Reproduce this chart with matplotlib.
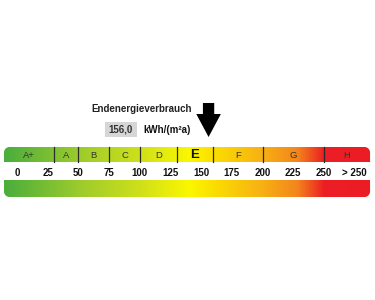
import numpy as np
import matplotlib
matplotlib.use("Agg")
import matplotlib.pyplot as plt
from matplotlib.path import Path
from matplotlib.patches import PathPatch, Rectangle, Polygon
from matplotlib.colors import LinearSegmentedColormap

plt.rcParams['font.family'] = ['Liberation Sans', 'DejaVu Sans']

# ---- data ----
classes = ['A+', 'A', 'B', 'C', 'D', 'E', 'F', 'G', 'H']
class_bounds = [-10.6, 30, 50, 75, 100, 130, 160, 200, 250, 287.5]
tick_values = [0, 25, 50, 75, 100, 125, 150, 175, 200, 225, 250, 275]
tick_labels = ['0', '25', '50', '75', '100', '125', '150', '175', '200', '225', '250', '> 250']
value = 156.0
value_label = '156,0'
unit_label = 'kWh/(m²a)'
title = 'Endenergieverbrauch'
current_class = 'E'

# gradient stops (value, colour)
grad_pos = [-10.6, 50, 100, 140, 160, 200, 228, 250, 287.5]
grad_col = ['#4aae3c', '#9ccb2c', '#cfe01a', '#fbf700', '#fbde00', '#f7b014', '#f3861c', '#ec1e24', '#ec1c24']

# ---- layout (pixel units in y, value units in x) ----
PX = 1.228          # px per value unit
X0 = 17             # pixel of value 0
W, H = 375, 300
fig = plt.figure(figsize=(W / 100, H / 100), dpi=100)
ax = fig.add_axes([0, 0, 1, 1])
ax.set_xlim((0 - X0) / PX, (W - X0) / PX)
ax.set_ylim(H, 0)
ax.axis('off')

xmin, xmax = class_bounds[0], class_bounds[-1]
top_y0, top_y1 = 147, 162
bot_y0, bot_y1 = 180, 197
r = 5.5  # px radius


def rounded_path(x0, x1, y0, y1, top=True):
    rx = r / PX
    k = 0.5523
    if top:
        verts = [(x0, y1), (x0, y0 + r), (x0, y0 + r - k * r), (x0 + rx - k * rx, y0), (x0 + rx, y0),
                 (x1 - rx, y0), (x1 - rx + k * rx, y0), (x1, y0 + r - k * r), (x1, y0 + r),
                 (x1, y1), (x0, y1)]
    else:
        verts = [(x0, y0), (x0, y1 - r), (x0, y1 - r + k * r), (x0 + rx - k * rx, y1), (x0 + rx, y1),
                 (x1 - rx, y1), (x1 - rx + k * rx, y1), (x1, y1 - r + k * r), (x1, y1 - r),
                 (x1, y0), (x0, y0)]
    codes = [Path.MOVETO, Path.LINETO, Path.CURVE4, Path.CURVE4, Path.CURVE4,
             Path.LINETO, Path.CURVE4, Path.CURVE4, Path.CURVE4, Path.LINETO, Path.CLOSEPOLY]
    return Path(verts, codes)


cmap = LinearSegmentedColormap.from_list(
    'energy', [((p - xmin) / (xmax - xmin), c) for p, c in zip(grad_pos, grad_col)])
grad = np.linspace(0, 1, 600).reshape(1, -1)

for (y0, y1, top) in [(top_y0, top_y1, True), (bot_y0, bot_y1, False)]:
    im = ax.imshow(grad, cmap=cmap, aspect='auto', extent=(xmin, xmax, y1, y0),
                   interpolation='bilinear', zorder=1)
    patch = PathPatch(rounded_path(xmin, xmax, y0, y1, top), facecolor='none', edgecolor='none')
    ax.add_patch(patch)
    im.set_clip_path(patch)

# dividers
for b in class_bounds[1:-1]:
    ax.plot([b, b], [top_y0, top_y1], color='#2a2a2a', lw=0.9, zorder=3)

# class labels
for i, c in enumerate(classes):
    cx = (class_bounds[i] + class_bounds[i + 1]) / 2
    if c == current_class:
        ax.text(cx, (top_y0 + top_y1) / 2 + 0.5, c, ha='center', va='center',
                fontsize=9.5, fontweight='bold', color='#111111', zorder=4)
    else:
        ax.text(cx, (top_y0 + top_y1) / 2 + 0.5, c, ha='center', va='center',
                fontsize=6.8, color='#333333', zorder=4)

# tick labels
for v, t in zip(tick_values, tick_labels):
    ax.text(v, 172.5, t, ha='center', va='center', fontsize=7, fontweight='bold', color='#111111')

# arrow
hx = 4.6   # shaft half width (value units)
hh = 10.0  # head half width
tip = 137
head_top = 114
shaft_top = 103
arrow = Polygon([(value - hx, shaft_top), (value + hx, shaft_top), (value + hx, head_top),
                 (value + hh, head_top), (value, tip), (value - hh, head_top),
                 (value - hx, head_top)], closed=True, facecolor='black', edgecolor='none', zorder=5)
ax.add_patch(arrow)

# title and value
ax.text((91 - X0) / PX, 109.5, title, ha='left', va='center', fontsize=7, fontweight='bold', color='#222222')
bx0, bx1 = (105 - X0) / PX, (137 - X0) / PX
ax.add_patch(Rectangle((bx0, 122), bx1 - bx0, 15, facecolor='#d6d6d6', edgecolor='none', zorder=2))
ax.text((bx0 + bx1) / 2, 129.7, value_label, ha='center', va='center', fontsize=7, fontweight='bold',
        color='#333333', zorder=3)
ax.text((143 - X0) / PX, 130, unit_label, ha='left', va='center', fontsize=7, fontweight='bold',
        color='#111111')

fig.savefig('out.png', dpi=100)
